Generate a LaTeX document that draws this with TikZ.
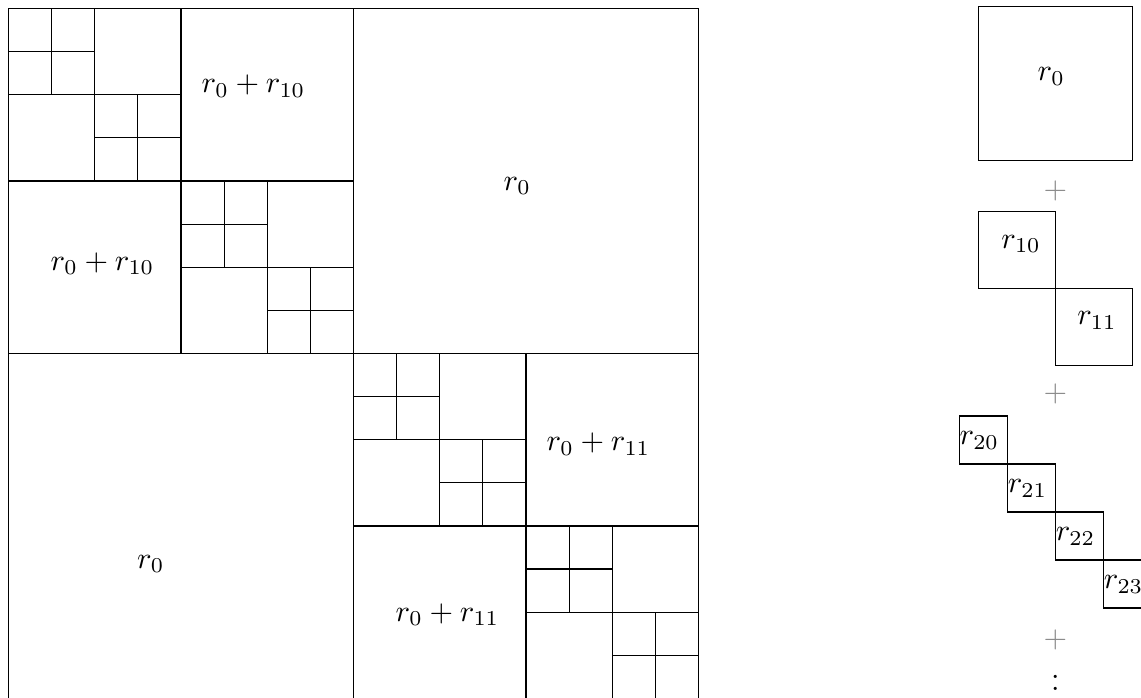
\documentclass[tikz,border=0pt]{standalone}
\usepackage{amsmath,amssymb}
\usepackage{tikz}

\begin{document}
\begin{tikzpicture}[
    % Thin black grid lines
    cell/.style={draw=black, thin},
    % Labels inside the squares
    block label/.style={inner sep=1pt, font=\normalsize},
    % Grey plus signs between the rows on the right
    sum sign/.style={text=black!45, inner sep=0pt}
  ]
  \useasboundingbox (-0.0986,0.0058) rectangle (13.131,8.0986);

  % --- Left: the big square and its quadrants ---
  \draw[cell] (0,0) rectangle (8,8);
  \draw[cell] (4,0) -- (4,8) (0,4) -- (8,4);
  \draw[cell] (2,4) -- (2,8) (0,6) -- (4,6);
  \draw[cell] (6,0) -- (6,4) (4,2) -- (8,2);

  % --- Repeating 2x2 blocks on the diagonal ---
  \foreach \a/\b in {0/6, 2/4, 4/2, 6/0} {
    \draw[cell] (\a+1,\b) -- (\a+1,\b+2) (\a,\b+1) -- (\a+2,\b+1);
    \draw[cell] (\a+0.5,\b+1) -- (\a+0.5,\b+2) (\a,\b+1.5) -- (\a+1,\b+1.5);
    \draw[cell] (\a+1.5,\b) -- (\a+1.5,\b+1) (\a+1,\b+0.5) -- (\a+2,\b+0.5);
  }

  % --- Left labels ---
  \node[block label] (sumtop)   at (2.84,7.10) {$r_0 + r_{10}$};
  \node[block label] (sumleft)  at (1.09,5.04) {$r_0 + r_{10}$};
  \node[block label] (rtopright) at (5.90,5.94) {$r_0$};
  \node[block label] (rbotleft) at (1.65,1.56) {$r_0$};
  \node[block label] (sumright) at (6.84,2.95) {$r_0 + r_{11}$};
  \node[block label] (sumbot)   at (5.09,0.97) {$r_0 + r_{11}$};

  % --- Right: level 0 ---
  \draw[cell] (11.244,6.236) rectangle (13.030,8.022);
  \node[block label] (r0) at (12.09,7.21) {$r_0$};
  \node[sum sign] (plusA) at (12.137,5.886) {$+$};

  % --- Right: level 1 ---
  \draw[cell] (11.244,4.756) rectangle (12.137,5.649);
  \draw[cell] (12.137,3.863) rectangle (13.030,4.756);
  \node[block label] (r10) at (11.74,5.27) {$r_{10}$};
  \node[block label] (r11) at (12.62,4.38) {$r_{11}$};
  \node[sum sign] (plusB) at (12.137,3.530) {$+$};

  % --- Right: level 2 ---
  \foreach \i in {0,...,3} {
    \draw[cell] (11.023+0.557*\i,2.719-0.557*\i) rectangle ++(0.557,0.557);
    \node[block label] (r2\i) at (11.257+0.557*\i,2.991-0.557*\i) {$r_{2\i}$};
  }
  \node[sum sign] (plusC) at (12.137,0.682) {$+$};
  \node[anchor=south, inner sep=0.333pt] (dots) at (12.137,-0.063) {$\vdots$};

\end{tikzpicture}
\end{document}
